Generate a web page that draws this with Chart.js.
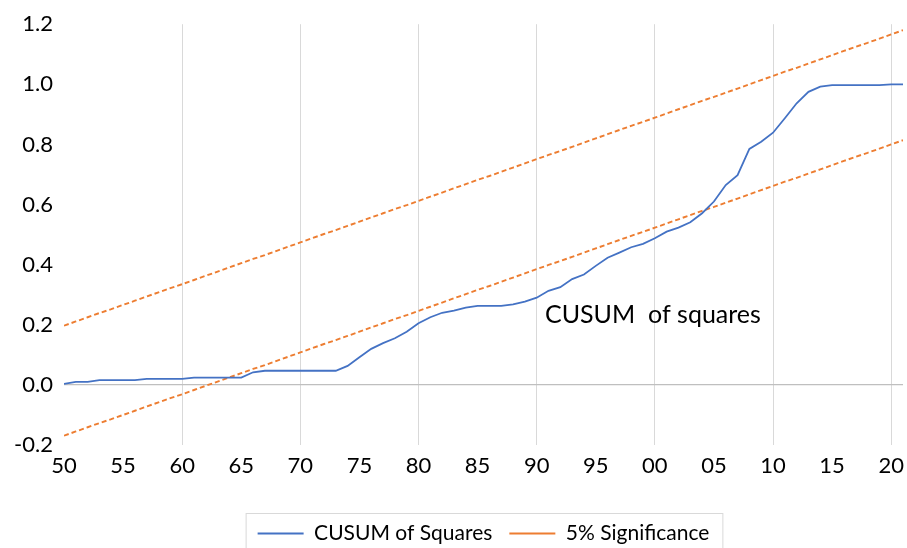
<!DOCTYPE html>
<html>
<head>
<meta charset="utf-8">
<script src="https://cdn.jsdelivr.net/npm/chart.js@4.4.1/dist/chart.umd.min.js"></script>
<style>
  html, body { margin: 0; padding: 0; background: #fff; overflow: hidden; }
  #wrap { width: 907px; height: 570px; }
</style>
</head>
<body>
<div id="wrap"><canvas id="cusumChart" width="907" height="570"></canvas></div>
<script>
// Years 1950-2021
const years = [
  1950, 1951, 1952, 1953, 1954, 1955, 1956, 1957, 1958, 1959,
  1960, 1961, 1962, 1963, 1964, 1965, 1966, 1967, 1968, 1969,
  1970, 1971, 1972, 1973, 1974, 1975, 1976, 1977, 1978, 1979,
  1980, 1981, 1982, 1983, 1984, 1985, 1986, 1987, 1988, 1989,
  1990, 1991, 1992, 1993, 1994, 1995, 1996, 1997, 1998, 1999,
  2000, 2001, 2002, 2003, 2004, 2005, 2006, 2007, 2008, 2009,
  2010, 2011, 2012, 2013, 2014, 2015, 2016, 2017, 2018, 2019,
  2020, 2021
];

// labelled years on the x axis (gridlines every second one)
const tickYears = [1950, 1955, 1960, 1965, 1970, 1975, 1980, 1985, 1990, 1995, 2000, 2005, 2010, 2015, 2020];
const yTicks = [-0.2, 0, 0.2, 0.4, 0.6, 0.8, 1.0, 1.2];

const cusumSq = [
  0.003, 0.010, 0.010, 0.016, 0.016, 0.016, 0.016, 0.020, 0.020, 0.020,
  0.020, 0.024, 0.024, 0.024, 0.024, 0.024, 0.042, 0.047, 0.047, 0.047,
  0.047, 0.047, 0.047, 0.047, 0.063, 0.092, 0.120, 0.139, 0.155, 0.177,
  0.205, 0.225, 0.240, 0.247, 0.257, 0.263, 0.263, 0.263, 0.268, 0.277,
  0.290, 0.313, 0.325, 0.352, 0.367, 0.396, 0.423, 0.440, 0.458, 0.469,
  0.488, 0.510, 0.523, 0.541, 0.571, 0.610, 0.665, 0.698, 0.785, 0.809,
  0.839, 0.887, 0.937, 0.975, 0.992, 0.997, 0.997, 0.997, 0.997, 0.997,
  1.000, 1.000
];

const upperBound = [
  0.197, 0.211, 0.225, 0.239, 0.252, 0.266, 0.280, 0.294, 0.308, 0.322,
  0.335, 0.349, 0.363, 0.377, 0.391, 0.405, 0.419, 0.432, 0.446, 0.460,
  0.474, 0.488, 0.502, 0.515, 0.529, 0.543, 0.557, 0.571, 0.585, 0.598,
  0.612, 0.626, 0.640, 0.654, 0.668, 0.682, 0.695, 0.709, 0.723, 0.737,
  0.751, 0.765, 0.778, 0.792, 0.806, 0.820, 0.834, 0.848, 0.862, 0.875,
  0.889, 0.903, 0.917, 0.931, 0.945, 0.958, 0.972, 0.986, 1.000, 1.014,
  1.028, 1.042, 1.055, 1.069, 1.083, 1.097, 1.111, 1.125, 1.138, 1.152,
  1.166, 1.180
];

const lowerBound = [
  -0.169, -0.155, -0.141, -0.127, -0.114, -0.100, -0.086, -0.072, -0.058, -0.044,
  -0.031, -0.017, -0.003, 0.011, 0.025, 0.039, 0.053, 0.066, 0.080, 0.094,
  0.108, 0.122, 0.136, 0.149, 0.163, 0.177, 0.191, 0.205, 0.219, 0.232,
  0.246, 0.260, 0.274, 0.288, 0.302, 0.316, 0.329, 0.343, 0.357, 0.371,
  0.385, 0.399, 0.412, 0.426, 0.440, 0.454, 0.468, 0.482, 0.496, 0.509,
  0.523, 0.537, 0.551, 0.565, 0.579, 0.592, 0.606, 0.620, 0.634, 0.648,
  0.662, 0.676, 0.689, 0.703, 0.717, 0.731, 0.745, 0.759, 0.772, 0.786,
  0.800, 0.814
];

const seriesNames = ['CUSUM of Squares', '5% Significance', '5% Significance (lower)'];
const annotationText = 'CUSUM  of squares';

const BLUE = '#4472C4';
const ORANGE = '#ED7D31';
const FONT = 'Lato, "Open Sans", sans-serif';

Chart.defaults.font.family = FONT;
Chart.defaults.color = '#000';

const toPoints = arr => arr.map((v, i) => ({ x: years[i], y: v }));

// text label inside the plot + box around the legend
const extrasPlugin = {
  id: 'extras',
  afterDatasetsDraw(chart) {
    const { ctx, scales } = chart;
    ctx.save();
    ctx.font = '25px ' + FONT;
    ctx.fillStyle = '#000';
    ctx.textBaseline = 'alphabetic';
    ctx.fillText(annotationText, scales.x.getPixelForValue(1990.7), scales.y.getPixelForValue(0.207));
    ctx.restore();
  },
  afterDraw(chart) {
    const lg = chart.legend;
    if (!lg || !lg.legendHitBoxes.length) return;
    const hb = lg.legendHitBoxes;
    const first = hb[0], last = hb[hb.length - 1];
    const ctx = chart.ctx;
    ctx.save();
    ctx.strokeStyle = '#d9d9d9';
    ctx.lineWidth = 1;
    ctx.strokeRect(first.left - 11.5, lg.top + 7.5, (last.left + last.width) - first.left + 25, 60);
    ctx.restore();
  }
};

const chart = new Chart(document.getElementById('cusumChart').getContext('2d'), {
  type: 'line',
  data: {
    datasets: [
      { label: seriesNames[0], data: toPoints(cusumSq), borderColor: BLUE, borderWidth: 1.8,
        pointRadius: 0, tension: 0, fill: false },
      { label: seriesNames[1], data: toPoints(upperBound), borderColor: ORANGE, borderWidth: 1.9,
        borderDash: [5, 3], pointRadius: 0, tension: 0, fill: false },
      { label: seriesNames[2], data: toPoints(lowerBound), borderColor: ORANGE, borderWidth: 1.9,
        borderDash: [5, 3], pointRadius: 0, tension: 0, fill: false }
    ]
  },
  options: {
    responsive: false, animation: false, devicePixelRatio: 1,
    layout: { padding: { top: 24, right: 4, left: 0, bottom: 16 } },
    plugins: {
      tooltip: { enabled: false },
      legend: {
        position: 'bottom', fullSize: false,
        labels: {
          font: { size: 21, family: FONT }, color: '#000',
          usePointStyle: true, pointStyle: 'line', pointStyleWidth: 46, padding: 17,
          filter: item => item.datasetIndex !== 2
        }
      }
    },
    scales: {
      x: {
        type: 'linear', min: 1950, max: 2021,
        afterBuildTicks: s => { s.ticks = tickYears.map(v => ({ value: v })); },
        afterFit: s => { s.height = 61; s.paddingLeft = 0; s.paddingRight = 0; },
        border: { display: false },
        grid: {
          drawTicks: false, lineWidth: 1,
          color: c => (c.tick && c.tick.value % 10 === 0 && c.tick.value > 1950) ? '#d9d9d9' : 'rgba(0,0,0,0)'
        },
        ticks: {
          autoSkip: false, maxRotation: 0, padding: 8,
          font: { size: 22, family: FONT }, color: '#000',
          callback: v => String(v % 100).padStart(2, '0')
        }
      },
      y: {
        min: -0.2, max: 1.2,
        afterBuildTicks: s => { s.ticks = yTicks.map(v => ({ value: v })); },
        afterFit: s => { s.width = 64; },
        border: { display: false },
        grid: {
          drawTicks: false, lineWidth: 1.2,
          color: c => (c.tick && Math.abs(c.tick.value) < 1e-9) ? '#bfbfbf' : 'rgba(0,0,0,0)'
        },
        ticks: {
          padding: 11,
          font: { size: 22, family: FONT }, color: '#000',
          callback: v => (Math.abs(v) < 1e-9 ? 0 : v).toFixed(1)
        }
      }
    }
  },
  plugins: [extrasPlugin]
});
</script>
</body>
</html>
